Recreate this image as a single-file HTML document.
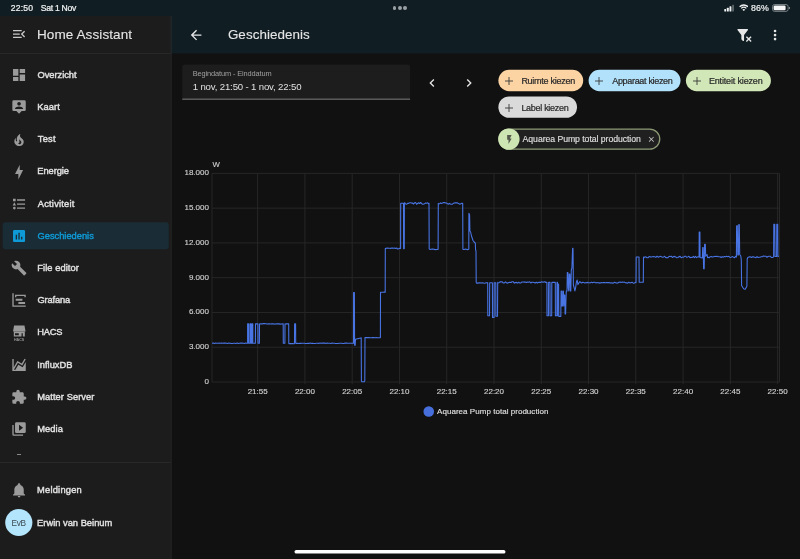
<!DOCTYPE html>
<html><head><meta charset="utf-8"><title>Geschiedenis</title>
<style>
html,body{margin:0;padding:0;}
body{width:800px;height:559px;overflow:hidden;background:#111111;position:relative;font-family:"Liberation Sans",sans-serif;color:#e1e1e1;}
div,svg{position:absolute;}
.ic{display:block;}
#status{left:0;top:0;width:800px;height:16px;background:#101e24;}
#sidebar{left:0;top:16px;width:171px;height:543px;background:#1c1c1c;border-right:1px solid #2b2b2b;}
#sidehead{left:0;top:16px;width:171px;height:37px;border-bottom:1px solid #303030;}
#header{left:172px;top:16px;width:628px;height:37.4px;background:#101e24;}
.selbg{left:2.7px;width:166px;height:26.9px;border-radius:2.7px;background:#192c35;}
#root{left:0;top:0;width:800px;height:559px;will-change:transform;}
.t{white-space:nowrap;}
.yl,.xl{-webkit-text-stroke:0.14px #d2d2d2;}
.yl{left:150px;width:59px;text-align:right;font-size:8px;line-height:12px;height:12px;color:#d2d2d2;letter-spacing:0.02px}
.xl{top:385.5px;width:40px;text-align:center;font-size:8px;line-height:12px;height:12px;color:#d2d2d2;}
.chip{height:21.3px;border-radius:11px;}
</style></head><body>
<div id="root">
<svg style="left:0;top:0;width:800px;height:559px" viewBox="0 0 800 559">
<rect x="0" y="0" width="800" height="53.4" fill="#101e24"/>
<rect x="0" y="16" width="171.6" height="543" fill="#1c1c1c"/>
<rect x="170.7" y="16" width="0.9" height="543" fill="#272727"/>
<rect x="170.7" y="16" width="0.9" height="37.4" fill="#222a2e"/>
<rect x="0" y="53.05" width="170.7" height="0.9" fill="#2b2b2b"/>
<rect x="0" y="462.0" width="170.7" height="0.9" fill="#2b2b2b"/>
<rect x="2.7" y="222.3" width="166.1" height="26.9" rx="2.7" fill="#1a2c35"/>
<path d="M182.25,99.0V67.2a2.7,2.7 0 0 1 2.7,-2.7H407.4a2.7,2.7 0 0 1 2.7,2.7V99.0Z" fill="#1d1d1d"/>
<rect x="182.25" y="98.7" width="227.85" height="0.9" fill="#8a8a8a"/>
<rect x="498.4" y="69.75" width="84.8" height="21.4" rx="10.7" fill="#fcd3a3"/>
<rect x="588.6" y="69.75" width="91.9" height="21.4" rx="10.7" fill="#b2e2fb"/>
<rect x="685.9" y="69.75" width="85.0" height="21.4" rx="10.7" fill="#d2e7b8"/>
<rect x="498.4" y="96.5" width="78.6" height="21.3" rx="10.65" fill="#dadada"/>
<rect x="498.85" y="129.05" width="160.9" height="20.1" rx="10.05" fill="#202020" stroke="#8c9b76" stroke-width="1.3"/>
<circle cx="508.9" cy="139.1" r="10.7" fill="#cde5b3"/>
<circle cx="18.8" cy="522.5" r="13.6" fill="#b3e5fc"/>
<circle cx="428.75" cy="411.45" r="5.3" fill="#476fdc"/>
<rect x="294.5" y="549.9" width="211" height="3.7" rx="1.85" fill="#ffffff"/>
</svg>
<div class="t" id="t13" style="left:10.75px;top:1.84px;font-size:8.60px;line-height:13px;height:13px;color:#f2f2f2;letter-spacing:0.188px;-webkit-text-stroke:0.22px #f2f2f2;">22:50</div>
<div class="t" id="t14" style="left:40.75px;top:1.84px;font-size:8.60px;line-height:13px;height:13px;color:#f2f2f2;letter-spacing:-0.280px;-webkit-text-stroke:0.22px #f2f2f2;">Sat 1 Nov</div>
<div style="left:392.7px;top:6px;width:3.8px;height:3.8px;border-radius:50%;background:#9aa0a3"></div>
<div style="left:398.1px;top:6px;width:3.8px;height:3.8px;border-radius:50%;background:#9aa0a3"></div>
<div style="left:403.4px;top:6px;width:3.8px;height:3.8px;border-radius:50%;background:#9aa0a3"></div>
<!-- status right -->
<svg style="left:724px;top:4px;width:11px;height:8px" viewBox="0 0 11 8">
<rect x="0.3" y="5" width="1.9" height="2.6" rx="0.5" fill="#f2f2f2"/><rect x="2.9" y="3.7" width="1.9" height="3.9" rx="0.5" fill="#f2f2f2"/><rect x="5.5" y="2.3" width="1.9" height="5.3" rx="0.5" fill="#f2f2f2"/><rect x="8.1" y="0.8" width="1.9" height="6.8" rx="0.5" fill="#5a6468"/></svg>
<svg style="left:738.8px;top:4.4px;width:9.6px;height:7.2px" viewBox="0 0 24 18"><path fill="none" stroke="#f2f2f2" stroke-width="3.2" stroke-linecap="butt" d="M1.5,6.8 A15,15 0 0 1 22.5,6.8 M5.6,11 A9.2,9.2 0 0 1 18.4,11"/><path fill="#f2f2f2" d="M12,17.8 L8.4,14.1 A5.2,5.2 0 0 1 15.6,14.1 Z"/></svg>
<div class="t" id="t15" style="left:751.00px;top:1.84px;font-size:8.80px;line-height:13px;height:13px;color:#f2f2f2;letter-spacing:0.125px;-webkit-text-stroke:0.20px #f2f2f2;">86%</div>
<svg style="left:772px;top:4.4px;width:19px;height:8px" viewBox="0 0 19 8"><rect x="0.5" y="0.5" width="15.6" height="6.9" rx="2.1" fill="none" stroke="#8d9497" stroke-width="0.8"/><rect x="1.6" y="1.6" width="12" height="4.7" rx="1.2" fill="#f5f5f5"/><path d="M16.9,2.7 q1.2,0.3 1.2,1.25 q0,0.95 -1.2,1.25z" fill="#8d9497"/></svg>

<svg class="ic" style="left:10.70px;top:26.45px;width:16.10px;height:16.10px" viewBox="0 0 24 24"><path fill="#c9c9c9" d="M21,15.61L19.59,17L14.58,12L19.59,7L21,8.39L17.44,12L21,15.61M3,6H16V8H3V6M3,13V11H13V13H3M3,18V16H16V18H3Z"/></svg>
<div class="t" id="t16" style="left:37.00px;top:24.54px;font-size:13.50px;line-height:20px;height:20px;color:#e6e6e6;letter-spacing:0.096px;-webkit-text-stroke:0.10px #e6e6e6;">Home Assistant</div>
<svg class="ic" style="left:10.70px;top:67.15px;width:16.10px;height:16.10px" viewBox="0 0 24 24"><path fill="#9b9b9b" d="M13,3V9H21V3M13,21H21V11H13M3,21H11V15H3M3,13H11V3H3V13Z"/></svg>
<div class="t" id="t1" style="left:37.50px;top:67.89px;font-size:9.30px;line-height:14px;height:14px;color:#e1e1e1;letter-spacing:-0.029px;-webkit-text-stroke:0.42px #e1e1e1;">Overzicht</div>
<svg class="ic" style="left:10.70px;top:99.34px;width:16.10px;height:16.10px" viewBox="0 0 24 24"><path fill="#9b9b9b" d="M20,2H4A2,2 0 0,0 2,4V16A2,2 0 0,0 4,18H8L12,22L16,18H20A2,2 0 0,0 22,16V4A2,2 0 0,0 20,2M12,4.3C13.5,4.3 14.7,5.5 14.7,7C14.7,8.5 13.5,9.7 12,9.7C10.5,9.7 9.3,8.5 9.3,7C9.3,5.5 10.5,4.3 12,4.3M18,15H6V14.1C6,12.1 10,11 12,11C14,11 18,12.1 18,14.1V15Z"/></svg>
<div class="t" id="t2" style="left:37.25px;top:100.08px;font-size:9.30px;line-height:14px;height:14px;color:#e1e1e1;letter-spacing:0.062px;-webkit-text-stroke:0.42px #e1e1e1;">Kaart</div>
<svg class="ic" style="left:10.70px;top:131.53px;width:16.10px;height:16.10px" viewBox="0 0 24 24"><path fill="#9b9b9b" d="M17.66 11.2C17.43 10.9 17.15 10.64 16.89 10.38C16.22 9.78 15.46 9.35 14.82 8.72C13.33 7.26 13 4.85 13.95 3C13 3.23 12.17 3.75 11.46 4.32C8.87 6.4 7.85 10.07 9.07 13.22C9.11 13.32 9.15 13.42 9.15 13.55C9.15 13.77 9 13.97 8.8 14.05C8.57 14.15 8.33 14.09 8.14 13.93C8.08 13.88 8.04 13.83 8 13.76C6.87 12.33 6.69 10.28 7.45 8.64C5.78 10 4.87 12.3 5 14.47C5.06 14.97 5.12 15.47 5.29 15.97C5.43 16.57 5.7 17.17 6 17.7C7.08 19.43 8.95 20.67 10.96 20.92C13.1 21.19 15.39 20.8 17.03 19.32C18.86 17.66 19.5 15 18.56 12.72L18.43 12.46C18.22 12 17.66 11.2 17.66 11.2M14.5 17.5C14.22 17.74 13.76 18 13.4 18.1C12.28 18.5 11.16 17.94 10.5 17.28C11.69 17 12.4 16.12 12.61 15.23C12.78 14.43 12.46 13.77 12.33 13C12.21 12.26 12.23 11.63 12.5 10.94C12.69 11.32 12.89 11.7 13.13 12C13.9 13 15.11 13.44 15.37 14.8C15.41 14.94 15.43 15.08 15.43 15.23C15.46 16.05 15.1 16.95 14.5 17.5H14.5Z"/></svg>
<div class="t" id="t3" style="left:37.75px;top:132.27px;font-size:9.30px;line-height:14px;height:14px;color:#e1e1e1;letter-spacing:0.251px;-webkit-text-stroke:0.42px #e1e1e1;">Test</div>
<svg class="ic" style="left:10.70px;top:163.72px;width:16.10px;height:16.10px" viewBox="0 0 24 24"><path fill="#9b9b9b" d="M11 15H6L13 1V9H18L11 23V15Z"/></svg>
<div class="t" id="t4" style="left:37.25px;top:164.46px;font-size:9.30px;line-height:14px;height:14px;color:#e1e1e1;letter-spacing:-0.042px;-webkit-text-stroke:0.42px #e1e1e1;">Energie</div>
<svg class="ic" style="left:10.70px;top:195.91px;width:16.10px;height:16.10px" viewBox="0 0 24 24"><path fill="#9b9b9b" d="M5,9.5L7.5,14H2.5L5,9.5M3,4H7V8H3V4M5,20A2,2 0 0,0 7,18A2,2 0 0,0 5,16A2,2 0 0,0 3,18A2,2 0 0,0 5,20M9,5V7H21V5H9M9,19H21V17H9V19M9,13H21V11H9V13Z"/></svg>
<div class="t" id="t5" style="left:37.75px;top:196.65px;font-size:9.30px;line-height:14px;height:14px;color:#e1e1e1;letter-spacing:0.221px;-webkit-text-stroke:0.42px #e1e1e1;">Activiteit</div>
<svg class="ic" style="left:10.70px;top:228.10px;width:16.10px;height:16.10px" viewBox="0 0 24 24"><path fill="#0e9ad6" d="M19,3H5C3.9,3 3,3.9 3,5V19C3,20.1 3.9,21 5,21H19C20.1,21 21,20.1 21,19V5C21,3.9 20.1,3 19,3M9,17H7V10H9V17M13,17H11V7H13V17M17,17H15V13H17V17Z"/></svg>
<div class="t" id="t6" style="left:37.50px;top:228.84px;font-size:9.30px;line-height:14px;height:14px;color:#0e9ad6;-webkit-text-stroke:0.42px #0e9ad6;">Geschiedenis</div>
<svg class="ic" style="left:10.70px;top:260.29px;width:16.10px;height:16.10px" viewBox="0 0 24 24"><path fill="#9b9b9b" d="M22.7,19L13.6,9.9C14.5,7.6 14,4.9 12.1,3C10.1,1 7.1,0.6 4.7,1.7L9,6L6,9L1.6,4.7C0.4,7.1 0.9,10.1 2.9,12.1C4.8,14 7.5,14.5 9.8,13.6L18.9,22.7C19.3,23.1 19.9,23.1 20.3,22.7L22.6,20.4C23.1,20 23.1,19.3 22.7,19Z"/></svg>
<div class="t" id="t7" style="left:37.25px;top:261.03px;font-size:9.30px;line-height:14px;height:14px;color:#e1e1e1;letter-spacing:0.075px;-webkit-text-stroke:0.42px #e1e1e1;">File editor</div>
<svg class="ic" style="left:10.70px;top:292.48px;width:16.10px;height:16.10px" viewBox="0 0 24 24"><path fill="#9b9b9b" d="M2,2H4V20H22V22H2V2M7,10H17V13H7V10M11,15H21V18H11V15M6,4H22V8H20V6H8V8H6V4Z"/></svg>
<div class="t" id="t8" style="left:37.50px;top:293.22px;font-size:9.30px;line-height:14px;height:14px;color:#e1e1e1;letter-spacing:-0.167px;-webkit-text-stroke:0.42px #e1e1e1;">Grafana</div>
<svg class="ic" style="left:10.70px;top:324.67px;width:16.10px;height:16.10px" viewBox="0 0 24 24"><path fill="#9b9b9b" d="M4.6,0.7H20.1L21.7,9.7H3ZM4.2,10.1H20.6V17.3H4.2ZM6,12.4V15.4H11.6V12.4ZM15.7,12.4V17.3H17.6V12.4Z"/><text x="12.1" y="23.6" font-size="4.9" font-weight="bold" text-anchor="middle" textLength="15.4" lengthAdjust="spacingAndGlyphs" fill="#9b9b9b" font-family="Liberation Sans, sans-serif">HACS</text></svg>
<div class="t" id="t9" style="left:37.25px;top:325.41px;font-size:9.30px;line-height:14px;height:14px;color:#e1e1e1;letter-spacing:-0.251px;-webkit-text-stroke:0.42px #e1e1e1;">HACS</div>
<svg class="ic" style="left:10.70px;top:356.86px;width:16.10px;height:16.10px" viewBox="0 0 24 24"><path fill="#9b9b9b" d="M17.45,15.18L22,7.31V19L22,21H2V3H4V15.54L9.5,6L16,9.78L20.24,2.45L21.97,3.45L16.74,12.5L10.23,8.75L4.31,19H6.57L10.96,11.44L17.45,15.18Z"/></svg>
<div class="t" id="t10" style="left:37.25px;top:357.60px;font-size:9.30px;line-height:14px;height:14px;color:#e1e1e1;-webkit-text-stroke:0.42px #e1e1e1;">InfluxDB</div>
<svg class="ic" style="left:10.70px;top:389.05px;width:16.10px;height:16.10px" viewBox="0 0 24 24"><path fill="#9b9b9b" d="M20.5,11H19V7C19,5.89 18.1,5 17,5H13V3.5A2.5,2.5 0 0,0 10.5,1A2.5,2.5 0 0,0 8,3.5V5H4A2,2 0 0,0 2,7V10.8H3.5C5,10.8 6.2,12 6.2,13.5C6.2,15 5,16.2 3.5,16.2H2V20A2,2 0 0,0 4,22H7.8V20.5C7.8,19 9,17.8 10.5,17.8C12,17.8 13.2,19 13.2,20.5V22H17A2,2 0 0,0 19,20V16H20.5A2.5,2.5 0 0,0 23,13.5A2.5,2.5 0 0,0 20.5,11Z"/></svg>
<div class="t" id="t11" style="left:37.25px;top:389.79px;font-size:9.30px;line-height:14px;height:14px;color:#e1e1e1;letter-spacing:0.064px;-webkit-text-stroke:0.42px #e1e1e1;">Matter Server</div>
<svg class="ic" style="left:10.70px;top:421.24px;width:16.10px;height:16.10px" viewBox="0 0 24 24"><path fill="#9b9b9b" d="M4,6H2V20A2,2 0 0,0 4,22H18V20H4V6M20,2H8A2,2 0 0,0 6,4V16A2,2 0 0,0 8,18H20A2,2 0 0,0 22,16V4A2,2 0 0,0 20,2M12,14.5V5.5L18,10L12,14.5Z"/></svg>
<div class="t" id="t12" style="left:37.25px;top:421.98px;font-size:9.30px;line-height:14px;height:14px;color:#e1e1e1;letter-spacing:0.064px;-webkit-text-stroke:0.42px #e1e1e1;">Media</div>

<div style="left:17px;top:454px;width:3.6px;height:0.9px;background:#8a8a8a"></div>
<svg class="ic" style="left:10.70px;top:482.25px;width:16.10px;height:16.10px" viewBox="0 0 24 24"><path fill="#9b9b9b" d="M21,19V20H3V19L5,17V11C5,7.9 7.03,5.17 10,4.29C10,4.19 10,4.1 10,4A2,2 0 0,1 12,2A2,2 0 0,1 14,4C14,4.1 14,4.19 14,4.29C16.97,5.17 19,7.9 19,11V17L21,19M14,21A2,2 0 0,1 12,23A2,2 0 0,1 10,21"/></svg>
<div class="t" id="t17" style="left:37.10px;top:483.29px;font-size:9.30px;line-height:14px;height:14px;color:#e1e1e1;letter-spacing:0.218px;-webkit-text-stroke:0.42px #e1e1e1;">Meldingen</div>
<div class="t" id="t18" style="left:11.50px;top:516.68px;font-size:8.30px;line-height:12px;height:12px;color:#3d4b52;letter-spacing:-0.375px;">EvB</div>
<div class="t" id="t19" style="left:37.10px;top:515.69px;font-size:9.30px;line-height:14px;height:14px;color:#e1e1e1;letter-spacing:0.016px;-webkit-text-stroke:0.42px #e1e1e1;">Erwin van Beinum</div>

<svg class="ic" style="left:187.65px;top:26.85px;width:16.10px;height:16.10px" viewBox="0 0 24 24"><path fill="#e6e6e6" d="M20,11V13H8L13.5,18.5L12.08,19.92L4.16,12L12.08,4.08L13.5,5.5L8,11H20Z"/></svg>
<div class="t" id="t20" style="left:227.90px;top:25.13px;font-size:13.40px;line-height:20px;height:20px;color:#e6e6e6;letter-spacing:0.068px;-webkit-text-stroke:0.10px #e6e6e6;">Geschiedenis</div>
<svg class="ic" style="left:735.55px;top:26.85px;width:16.10px;height:16.10px" viewBox="0 0 24 24"><path fill="#e6e6e6" d="M14.76,20.83L17.6,18L14.76,15.17L16.17,13.76L19,16.57L21.83,13.76L23.24,15.17L20.43,18L23.24,20.83L21.83,22.24L19,19.4L16.17,22.24L14.76,20.83M12,12V19.88C12.04,20.18 11.94,20.5 11.71,20.71C11.32,21.1 10.69,21.1 10.3,20.71L8.29,18.7C8.06,18.47 7.96,18.16 8,17.87V12H7.97L2.21,4.62C1.87,4.19 1.95,3.56 2.38,3.22C2.57,3.08 2.78,3 3,3V3H17V3C17.22,3 17.43,3.08 17.62,3.22C18.05,3.56 18.13,4.19 17.79,4.62L12.03,12H12Z"/></svg>
<svg class="ic" style="left:767.45px;top:26.75px;width:16.10px;height:16.10px" viewBox="0 0 24 24"><path fill="#e6e6e6" d="M12,16A2,2 0 0,1 14,18A2,2 0 0,1 12,20A2,2 0 0,1 10,18A2,2 0 0,1 12,16M12,10A2,2 0 0,1 14,12A2,2 0 0,1 12,14A2,2 0 0,1 10,12A2,2 0 0,1 12,10M12,4A2,2 0 0,1 14,6A2,2 0 0,1 12,8A2,2 0 0,1 10,6A2,2 0 0,1 12,4Z"/></svg>

<!-- date field -->
<div class="t" id="t21" style="left:192.75px;top:68.17px;font-size:7.40px;line-height:11px;height:11px;color:#a0a0a0;letter-spacing:-0.119px;">Begindatum - Einddatum</div>
<div class="t" id="t22" style="left:192.75px;top:79.60px;font-size:9.60px;line-height:14px;height:14px;color:#e1e1e1;letter-spacing:-0.154px;">1 nov, 21:50 - 1 nov, 22:50</div>
<svg class="ic" style="left:423.65px;top:74.75px;width:16.10px;height:16.10px" viewBox="0 0 24 24"><path fill="#e6e6e6" d="M15.41,16.58L10.83,12L15.41,7.41L14,6L8,12L14,18L15.41,16.58Z"/></svg>
<svg class="ic" style="left:461.05px;top:74.75px;width:16.10px;height:16.10px" viewBox="0 0 24 24"><path fill="#e6e6e6" d="M8.59,16.58L13.17,12L8.59,7.41L10,6L16,12L10,18L8.59,16.58Z"/></svg>

<!-- chips -->
<svg class="ic" style="left:503.55px;top:75.50px;width:10px;height:10px" viewBox="0 0 10 10"><path d="M1,5H9M5,1V9" stroke="#383838" stroke-width="0.9" fill="none"/></svg>
<div class="t" id="t23" style="left:521.40px;top:74.09px;font-size:9.00px;line-height:14px;height:14px;color:#2a2a2a;letter-spacing:-0.270px;-webkit-text-stroke:0.22px #2a2a2a;">Ruimte kiezen</div>
<svg class="ic" style="left:593.50px;top:75.50px;width:10px;height:10px" viewBox="0 0 10 10"><path d="M1,5H9M5,1V9" stroke="#383838" stroke-width="0.9" fill="none"/></svg>
<div class="t" id="t24" style="left:612.25px;top:74.09px;font-size:9.00px;line-height:14px;height:14px;color:#2a2a2a;letter-spacing:-0.321px;-webkit-text-stroke:0.22px #2a2a2a;">Apparaat kiezen</div>
<svg class="ic" style="left:691.50px;top:75.50px;width:10px;height:10px" viewBox="0 0 10 10"><path d="M1,5H9M5,1V9" stroke="#383838" stroke-width="0.9" fill="none"/></svg>
<div class="t" id="t25" style="left:708.90px;top:74.09px;font-size:9.00px;line-height:14px;height:14px;color:#2a2a2a;letter-spacing:-0.161px;-webkit-text-stroke:0.22px #2a2a2a;">Entiteit kiezen</div>
<svg class="ic" style="left:503.55px;top:102.50px;width:10px;height:10px" viewBox="0 0 10 10"><path d="M1,5H9M5,1V9" stroke="#383838" stroke-width="0.9" fill="none"/></svg>
<div class="t" id="t26" style="left:521.40px;top:101.09px;font-size:9.00px;line-height:14px;height:14px;color:#2a2a2a;letter-spacing:-0.296px;-webkit-text-stroke:0.22px #2a2a2a;">Label kiezen</div>

<svg class="ic" style="left:503.60px;top:133.70px;width:10.80px;height:10.80px" viewBox="0 0 24 24"><path fill="#535a4c" d="M7,2V13H10V22L17,10H13L17,2H7Z"/></svg>
<div class="t" id="t27" style="left:522.60px;top:133.19px;font-size:8.70px;line-height:13px;height:13px;color:#e1e1e1;letter-spacing:-0.054px;-webkit-text-stroke:0.12px #e1e1e1;">Aquarea Pump total production</div>
<svg class="ic" style="left:646.85px;top:135.05px;width:8.70px;height:8.70px" viewBox="0 0 24 24"><path fill="#cfcfcf" d="M19,6.41L17.59,5L12,10.59L6.41,5L5,6.41L10.59,12L5,17.59L6.41,19L12,13.41L17.59,19L19,17.59L13.41,12L19,6.41Z"/></svg>

<!-- chart -->
<div class="t" id="t28" style="left:212.50px;top:159.48px;font-size:7.80px;line-height:12px;height:12px;color:#d2d2d2;-webkit-text-stroke:0.12px #d2d2d2;">W</div>
<div class="yl" style="top:167.20px">18.000</div>
<div class="yl" style="top:201.97px">15.000</div>
<div class="yl" style="top:236.73px">12.000</div>
<div class="yl" style="top:271.50px">9.000</div>
<div class="yl" style="top:306.27px">6.000</div>
<div class="yl" style="top:341.03px">3.000</div>
<div class="yl" style="top:375.80px">0</div>

<div class="xl" style="left:237.65px">21:55</div>
<div class="xl" style="left:284.92px">22:00</div>
<div class="xl" style="left:332.19px">22:05</div>
<div class="xl" style="left:379.46px">22:10</div>
<div class="xl" style="left:426.73px">22:15</div>
<div class="xl" style="left:474.00px">22:20</div>
<div class="xl" style="left:521.27px">22:25</div>
<div class="xl" style="left:568.54px">22:30</div>
<div class="xl" style="left:615.81px">22:35</div>
<div class="xl" style="left:663.08px">22:40</div>
<div class="xl" style="left:710.35px">22:45</div>
<div class="xl" style="left:757.62px">22:50</div>

<svg style="left:0;top:0;width:800px;height:559px" viewBox="0 0 800 559">
<g stroke="#272727" stroke-width="1" fill="none">
<line x1="212" y1="173.40" x2="779.5" y2="173.40"/>
<line x1="212" y1="208.17" x2="779.5" y2="208.17"/>
<line x1="212" y1="242.93" x2="779.5" y2="242.93"/>
<line x1="212" y1="277.70" x2="779.5" y2="277.70"/>
<line x1="212" y1="312.47" x2="779.5" y2="312.47"/>
<line x1="212" y1="347.23" x2="779.5" y2="347.23"/>
<line x1="212" y1="382.00" x2="779.5" y2="382.00"/>
<line x1="212.00" y1="173.40" x2="212.00" y2="382.00"/>
<line x1="257.65" y1="173.40" x2="257.65" y2="382.00"/>
<line x1="304.92" y1="173.40" x2="304.92" y2="382.00"/>
<line x1="352.19" y1="173.40" x2="352.19" y2="382.00"/>
<line x1="399.46" y1="173.40" x2="399.46" y2="382.00"/>
<line x1="446.73" y1="173.40" x2="446.73" y2="382.00"/>
<line x1="494.00" y1="173.40" x2="494.00" y2="382.00"/>
<line x1="541.27" y1="173.40" x2="541.27" y2="382.00"/>
<line x1="588.54" y1="173.40" x2="588.54" y2="382.00"/>
<line x1="635.81" y1="173.40" x2="635.81" y2="382.00"/>
<line x1="683.08" y1="173.40" x2="683.08" y2="382.00"/>
<line x1="730.35" y1="173.40" x2="730.35" y2="382.00"/>
<line x1="777.62" y1="173.40" x2="777.62" y2="382.00"/>
<line x1="779.50" y1="173.40" x2="779.50" y2="382.00"/>
<line x1="257.65" y1="382.00" x2="257.65" y2="384.20"/>
<line x1="304.92" y1="382.00" x2="304.92" y2="384.20"/>
<line x1="352.19" y1="382.00" x2="352.19" y2="384.20"/>
<line x1="399.46" y1="382.00" x2="399.46" y2="384.20"/>
<line x1="446.73" y1="382.00" x2="446.73" y2="384.20"/>
<line x1="494.00" y1="382.00" x2="494.00" y2="384.20"/>
<line x1="541.27" y1="382.00" x2="541.27" y2="384.20"/>
<line x1="588.54" y1="382.00" x2="588.54" y2="384.20"/>
<line x1="635.81" y1="382.00" x2="635.81" y2="384.20"/>
<line x1="683.08" y1="382.00" x2="683.08" y2="384.20"/>
<line x1="730.35" y1="382.00" x2="730.35" y2="384.20"/>
<line x1="777.62" y1="382.00" x2="777.62" y2="384.20"/>
</g>
<polyline fill="none" stroke="#4874e4" stroke-width="1.08" stroke-linejoin="round" points="212.0,343.2 213.2,343.1 214.4,343.4 215.6,343.1 216.8,343.3 218.0,343.2 219.2,343.1 220.4,343.3 221.6,343.1 222.8,343.3 224.0,343.1 225.2,343.1 226.4,343.3 227.6,343.5 228.8,343.1 230.0,343.2 231.2,343.4 232.4,343.5 233.6,343.3 234.8,343.2 236.0,343.5 237.2,343.1 238.4,343.5 239.6,343.2 240.8,343.1 242.0,343.1 243.2,343.2 244.4,343.5 245.6,343.1 246.8,343.3 247.3,343.3 247.6,343.3 247.6,323.9 248.6,323.9 248.6,343.3 250.0,343.3 250.0,323.9 251.0,323.9 251.0,343.3 251.9,343.3 251.9,323.9 252.8,323.9 252.8,343.3 255.4,343.3 255.5,323.9 257.9,323.9 258.0,343.3 259.4,343.3 259.5,323.9 259.8,324.0 261.0,323.8 262.2,323.9 263.4,323.6 264.6,323.6 265.8,323.7 267.0,324.0 268.2,323.9 269.4,323.8 270.6,324.0 271.8,323.9 273.0,323.8 274.2,324.1 275.4,324.0 276.6,323.7 277.8,323.9 279.0,323.9 280.2,324.1 281.4,324.0 282.6,323.8 283.0,323.9 283.2,323.9 283.3,343.3 284.9,343.3 285.0,323.9 285.3,324.2 286.5,323.7 287.7,323.9 288.5,323.9 288.7,323.9 288.8,343.6 289.0,343.7 290.2,343.5 291.4,343.6 292.6,343.5 293.8,343.7 294.3,343.6 294.5,343.3 294.6,323.9 295.6,323.9 295.7,343.3 296.0,343.4 297.2,343.3 298.4,343.5 299.6,343.2 300.8,343.4 302.0,343.3 303.2,343.3 304.4,343.3 305.6,343.5 306.8,343.5 308.0,343.3 309.2,343.4 310.4,343.1 311.6,343.4 312.8,343.4 314.0,343.5 315.2,343.5 316.4,343.2 317.6,343.2 318.8,343.4 320.0,343.1 321.2,343.3 322.4,343.1 323.6,343.1 324.8,343.1 326.0,343.4 327.2,343.1 328.4,343.2 329.6,343.2 330.8,343.5 332.0,343.1 333.2,343.3 334.4,343.3 335.6,343.5 336.8,343.5 338.0,343.5 339.2,343.2 340.4,343.3 341.6,343.2 342.8,343.5 344.0,343.5 345.2,343.1 346.4,343.1 347.6,343.2 348.8,343.2 350.0,343.3 351.2,343.3 352.4,343.2 353.2,343.3 353.5,343.3 353.6,292.6 354.4,292.6 354.6,345.2 355.2,345.2 355.5,339.2 360.8,337.9 361.2,337.8 361.4,380.8 361.9,381.8 364.3,381.8 364.8,380.8 365.0,337.6 365.3,337.5 366.5,337.6 367.7,337.6 368.9,337.6 370.1,337.7 371.3,337.7 372.5,337.6 373.7,337.6 374.9,337.7 376.1,337.5 377.3,337.7 378.5,337.7 379.7,337.7 380.2,337.6 380.4,337.6 380.5,292.2 380.7,292.3 381.9,292.2 383.1,292.2 384.3,292.1 385.0,292.2 385.2,292.2 385.3,248.4 385.6,248.8 386.6,248.1 387.6,248.1 388.6,248.3 389.6,248.2 390.6,248.4 391.6,248.1 392.6,248.0 393.6,248.2 394.6,248.1 395.6,248.4 396.6,248.0 397.6,249.0 398.6,248.7 399.6,248.2 400.3,248.6 400.6,248.4 400.7,203.4 400.9,203.3 402.1,203.3 403.3,203.3 403.3,203.4 403.5,203.4 403.6,248.6 404.3,248.6 404.4,203.4 404.6,202.7 405.6,204.0 406.6,204.3 407.6,203.3 408.6,203.4 409.6,202.7 410.6,202.7 411.6,203.1 412.6,203.0 413.6,204.0 414.6,202.8 415.6,202.5 416.6,204.2 417.6,203.5 418.6,202.8 419.6,203.5 420.6,202.5 421.6,203.5 422.6,204.3 423.6,204.1 424.6,203.8 425.6,203.0 426.6,203.2 427.6,202.8 428.6,203.9 428.7,203.4 429.0,203.2 429.2,248.9 429.5,249.2 430.7,249.4 431.9,249.1 433.1,249.0 434.3,249.4 435.5,249.6 436.7,249.5 437.9,249.4 437.9,249.2 438.1,249.0 438.3,203.3 438.5,204.0 439.5,203.8 440.5,202.9 441.5,203.4 442.5,203.1 443.5,202.6 444.5,202.6 445.5,203.0 446.5,203.0 447.5,203.7 448.5,204.2 449.5,203.3 450.5,204.2 451.5,204.3 452.5,204.2 453.5,203.2 454.5,202.9 455.5,202.9 456.5,202.9 457.5,202.9 458.5,203.6 459.5,204.1 460.5,204.0 461.5,203.4 462.4,203.4 462.7,203.4 462.9,249.2 463.1,249.4 464.3,249.5 465.5,249.0 466.7,249.4 467.9,249.6 468.6,249.3 468.8,249.3 468.9,213.2 469.6,215.0 469.9,231.0 470.6,232.0 471.5,236.0 473.0,240.5 474.4,242.3 475.3,243.0 475.6,250.0 476.0,251.0 476.2,282.2 476.5,283.1 477.7,283.1 478.9,282.9 480.1,282.7 481.3,283.1 482.5,282.8 483.7,283.1 484.9,283.2 486.1,282.8 487.3,282.8 487.3,282.9 487.7,282.7 487.8,315.8 489.5,315.8 489.7,282.7 492.4,282.7 492.5,317.4 494.1,317.4 494.2,282.7 495.8,282.7 495.9,316.2 497.5,316.2 497.7,282.3 497.8,283.1 498.9,282.7 500.0,281.9 501.1,281.8 502.2,281.9 503.3,283.0 504.4,282.9 505.5,281.9 506.6,282.9 507.7,283.1 508.8,282.6 509.9,282.2 511.0,282.5 512.1,281.8 513.2,281.7 514.3,283.1 515.4,282.6 516.5,282.4 517.6,283.1 518.7,282.3 519.8,283.0 520.9,282.9 522.0,282.0 523.1,282.0 524.2,282.1 525.3,282.0 526.4,282.5 527.5,282.0 528.6,282.3 529.7,281.8 530.8,283.0 531.9,282.2 533.0,282.3 534.1,282.5 535.2,283.0 536.3,282.3 537.4,283.0 538.5,282.4 539.6,282.4 540.7,282.4 541.8,281.7 542.9,282.3 544.0,281.9 545.1,281.7 545.6,282.4 546.9,282.4 547.0,315.8 548.5,315.8 548.6,282.4 550.0,282.4 550.1,315.8 551.7,315.8 551.8,282.4 555.3,282.4 555.4,315.8 556.9,315.8 557.0,282.4 557.5,282.4 557.6,315.8 557.8,284.0 558.6,284.0 558.8,316.4 560.8,316.4 561.1,291.0 561.6,291.0 561.9,306.0 562.6,306.0 562.9,291.0 563.4,291.0 563.8,306.0 564.2,295.0 564.8,295.0 565.1,314.0 565.6,314.0 565.9,302.0 566.3,291.0 567.0,291.0 567.3,272.5 567.9,272.5 568.3,288.0 568.8,291.0 569.3,274.0 569.9,274.0 570.3,291.0 570.8,291.0 571.3,270.0 571.9,268.0 572.6,248.4 573.0,248.4 573.4,285.0 574.2,288.0 574.9,291.0 575.6,288.0 576.4,282.0 577.2,280.0 577.9,284.6 578.8,283.0 579.8,281.6 581.0,282.7 581.5,283.0 582.6,282.2 583.7,282.6 584.8,282.9 585.9,282.7 587.0,282.4 588.1,282.6 589.2,282.7 590.3,282.9 591.4,282.1 592.5,282.7 593.6,282.3 594.7,282.3 595.8,282.9 596.9,282.6 598.0,282.7 599.1,282.9 600.2,283.1 601.3,282.5 602.4,282.7 603.5,282.6 604.6,282.6 605.7,282.8 606.8,282.5 607.9,282.6 609.0,282.6 610.1,283.1 611.2,282.8 612.3,283.1 613.4,283.1 614.5,282.3 615.6,282.7 616.7,283.1 617.8,283.0 618.9,282.2 620.0,282.1 621.1,282.5 622.2,282.1 623.3,282.3 624.4,282.1 625.5,282.8 626.6,282.9 627.7,283.1 628.8,282.2 629.9,282.9 631.0,282.8 632.1,282.2 633.2,283.1 634.3,283.2 635.4,282.3 635.8,282.6 636.0,282.6 636.2,257.0 639.0,257.0 639.2,282.2 643.3,282.2 643.5,257.0 643.8,257.8 644.9,256.8 646.0,257.0 647.1,257.8 648.2,257.6 649.3,256.4 650.4,256.9 651.5,257.0 652.6,256.7 653.7,256.5 654.8,256.7 655.9,257.4 657.0,256.2 658.1,257.1 659.2,256.9 660.3,256.2 661.4,256.7 662.5,257.2 663.6,257.0 664.7,256.3 665.8,257.8 666.9,257.5 668.0,257.8 669.1,256.3 670.2,256.6 671.3,256.2 672.4,257.5 673.5,256.6 674.6,256.4 675.7,256.9 676.8,257.7 677.9,257.5 679.0,256.6 680.1,256.4 681.2,257.7 682.3,257.1 683.4,257.3 684.5,256.3 685.6,256.2 686.7,257.3 687.8,256.9 688.9,256.3 690.0,257.7 691.1,257.2 692.2,257.5 693.3,256.3 694.4,257.6 695.5,256.3 696.6,257.6 697.7,256.9 698.8,256.7 698.9,257.0 699.1,257.0 699.2,232.0 699.9,232.0 700.1,257.5 702.4,258.0 702.7,247.5 703.2,247.5 703.6,268.8 704.2,268.8 704.6,244.2 705.3,244.2 705.7,256.2 707.0,254.5 707.6,257.6 708.0,257.2 709.1,257.8 710.2,256.7 711.3,256.5 712.4,257.1 713.5,256.7 714.6,256.4 715.7,256.5 716.8,256.3 717.9,256.6 719.0,256.8 720.1,256.8 721.2,257.5 722.3,256.7 723.4,257.1 724.5,256.6 725.6,256.8 726.7,256.3 727.8,256.7 728.9,256.3 730.0,257.5 731.1,257.2 732.2,256.6 733.3,257.1 734.4,257.8 735.5,256.4 736.2,257.1 736.4,257.0 736.6,226.0 737.3,225.6 737.8,255.0 738.4,255.0 738.8,224.6 739.3,224.6 739.7,254.5 740.8,256.0 741.3,260.0 741.6,285.5 742.8,287.5 744.0,288.9 745.2,289.3 746.2,287.6 746.9,286.0 747.2,259.0 747.8,257.5 748.2,257.4 749.3,256.8 750.4,256.9 751.5,257.5 752.6,256.7 753.7,256.9 754.8,257.2 755.9,257.7 757.0,256.6 758.1,257.5 759.2,257.3 760.3,257.1 761.4,256.7 762.5,256.6 763.6,256.1 764.7,256.3 765.8,256.2 766.9,257.3 768.0,256.5 769.1,256.3 770.2,256.2 771.3,257.5 772.4,257.5 773.4,256.9 773.6,257.0 773.8,224.3 774.8,224.3 775.0,256.5 776.6,256.5 776.8,224.3 777.7,224.3 777.9,256.5 779.0,256.2"/>
</svg>
<div class="t" id="t29" style="left:437.10px;top:405.88px;font-size:8.00px;line-height:12px;height:12px;color:#e1e1e1;letter-spacing:0.036px;-webkit-text-stroke:0.12px #e1e1e1;">Aquarea Pump total production</div>

</div>
</body></html>
